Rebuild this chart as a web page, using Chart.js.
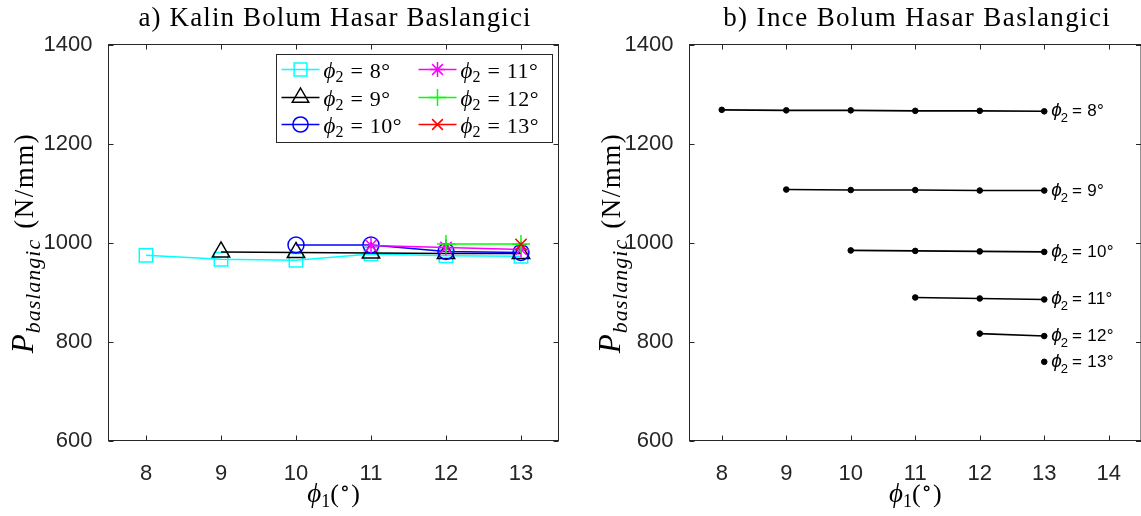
<!DOCTYPE html>
<html><head><meta charset="utf-8">
<script src="https://cdn.jsdelivr.net/npm/chart.js@4"></script>
<style>
html,body{margin:0;padding:0;background:#fff;overflow:hidden;width:1141px;height:516px;}
#wrap{position:relative;width:1141px;height:516px;overflow:hidden;}
canvas{position:absolute;top:0;}
#c1{left:0;} #c2{left:570px;}
</style></head><body>
<div id="wrap"><canvas id="c1" width="570" height="516"></canvas><canvas id="c2" width="576" height="516"></canvas></div>
<script>
// ---------------- data ----------------
const phi1 = [8, 9, 10, 11, 12, 13];
const xTicksA = [8, 9, 10, 11, 12, 13];
const xTicksB = [8, 9, 10, 11, 12, 13, 14];
const yTicks = [600, 800, 1000, 1200, 1400];
const phi2Names = ['8', '9', '10', '11', '12', '13'];
const titleA = 'a) Kalin Bolum Hasar Baslangici';
const titleB = 'b) Ince Bolum Hasar Baslangici';

// a) Kalin bolum (series phi2 = 8..13, starting at phi1 = phi2)
const kalin8  = [974, 966, 964, 977, 973, 972];
const kalin9  = [981, 980, 979, 978, 978];
const kalin10 = [995, 995, 982, 980];
const kalin11 = [994, 990, 986];
const kalin12 = [997, 997];
const kalin13 = [996];

// b) Ince bolum
const ince8  = [1268, 1267, 1267, 1266, 1266, 1265];
const ince9  = [1107, 1106, 1106, 1105, 1105];
const ince10 = [984, 983, 982, 981];
const ince11 = [889, 887, 885];
const ince12 = [816, 811];
const ince13 = [759];

const kalin = [kalin8, kalin9, kalin10, kalin11, kalin12, kalin13];
const ince = [ince8, ince9, ince10, ince11, ince12, ince13];

// ---------------- styles ----------------
const colorsA = ['#00ffff', '#000000', '#0000ff', '#ff00ff', '#00ff00', '#ff0000'];
const stylesA = ['rect', 'triangle', 'circle', 'star', 'cross', 'crossRot'];
const radiiA = [9.5, 10, 8, 8, 9, 8];
const AX = '#262626';
const SERIF = '"Liberation Serif", "DejaVu Serif", serif';
const SANS = '"Liberation Sans", Arial, Helvetica, sans-serif';
const H = 516;

function toPts(vals, i) { return vals.map((v, j) => ({ x: phi1[i + j], y: v })); }

const dsA = kalin.map((vals, i) => ({
  label: 'phi2=' + phi2Names[i],
  data: toPts(vals, i),
  borderColor: colorsA[i],
  backgroundColor: 'rgba(0,0,0,0)',
  pointStyle: stylesA[i],
  pointRadius: radiiA[i],
  pointBorderColor: colorsA[i],
  pointBackgroundColor: 'rgba(0,0,0,0)',
  pointBorderWidth: 1.5,
  borderWidth: 1.5,
  tension: 0,
  order: 10 - i
}));
const dsB = ince.map((vals, i) => ({
  label: 'phi2=' + phi2Names[i],
  data: toPts(vals, i),
  borderColor: '#000',
  backgroundColor: '#000',
  pointStyle: 'circle',
  pointRadius: 2.8,
  pointBorderColor: '#000',
  pointBackgroundColor: '#000',
  pointBorderWidth: 1,
  borderWidth: 1.6,
  tension: 0
}));

// ---------------- drawing helpers ----------------
function drawMarker(ctx, style, x, y, r) {
  ctx.beginPath();
  if (style === 'rect') {
    const s = r * Math.SQRT1_2; ctx.rect(x - s, y - s, 2 * s, 2 * s);
  } else if (style === 'triangle') {
    ctx.moveTo(x, y - r); ctx.lineTo(x + 0.866 * r, y + 0.5 * r); ctx.lineTo(x - 0.866 * r, y + 0.5 * r); ctx.closePath();
  } else if (style === 'circle') {
    ctx.arc(x, y, r, 0, Math.PI * 2);
  } else if (style === 'star') {
    const d = r * Math.SQRT1_2;
    ctx.moveTo(x - r, y); ctx.lineTo(x + r, y); ctx.moveTo(x, y - r); ctx.lineTo(x, y + r);
    ctx.moveTo(x - d, y - d); ctx.lineTo(x + d, y + d); ctx.moveTo(x - d, y + d); ctx.lineTo(x + d, y - d);
  } else if (style === 'cross') {
    ctx.moveTo(x - r, y); ctx.lineTo(x + r, y); ctx.moveTo(x, y - r); ctx.lineTo(x, y + r);
  } else if (style === 'crossRot') {
    const d = r * Math.SQRT1_2;
    ctx.moveTo(x - d, y - d); ctx.lineTo(x + d, y + d); ctx.moveTo(x - d, y + d); ctx.lineTo(x + d, y - d);
  }
  ctx.stroke();
}

function fitText(ctx, text, cx, cy, targetW) {
  ctx.letterSpacing = '0px';
  const w = ctx.measureText(text).width;
  const ls = (targetW - w) / text.length;
  ctx.letterSpacing = ls.toFixed(2) + 'px';
  ctx.textAlign = 'center';
  ctx.textBaseline = 'middle';
  ctx.fillText(text, cx + ls / 2, cy);
  ctx.letterSpacing = '0px';
}

// draws runs [{t, font, dy, gap, ls}] left to right starting at x
function runs(ctx, parts, x, y) {
  ctx.textAlign = 'left'; ctx.textBaseline = 'alphabetic';
  for (const p of parts) {
    ctx.font = p.font;
    ctx.letterSpacing = (p.ls || 0) + 'px';
    ctx.fillText(p.t, x, y + (p.dy || 0));
    x += ctx.measureText(p.t).width + (p.gap || 0);
  }
  ctx.letterSpacing = '0px';
  return x;
}
function runsWidth(ctx, parts) {
  let w = 0;
  for (const p of parts) {
    ctx.font = p.font; ctx.letterSpacing = (p.ls || 0) + 'px';
    w += ctx.measureText(p.t).width + (p.gap || 0);
  }
  ctx.letterSpacing = '0px';
  return w;
}

const yLabelParts = [
  { t: 'P', font: 'italic 31px ' + SERIF, gap: 1 },
  { t: 'baslangic', font: 'italic 22px ' + SERIF, dy: 7, gap: 10, ls: 1 },
  { t: '(N/mm)', font: '27px ' + SERIF, ls: 1.5 }
];
const xLabelParts = [
  { t: '\u03D5', font: 'italic 27px ' + SERIF },
  { t: '1', font: '18px ' + SERIF, dy: 5 },
  { t: '(', font: '26px ' + SERIF, gap: 1 },
  { t: '\u2218', font: '21px ' + SERIF, dy: -7, gap: 1 },
  { t: ')', font: '26px ' + SERIF }
];

function framePlugin(opts) {
  return {
    id: 'frame',
    afterDraw(chart) {
      const ctx = chart.ctx, a = chart.chartArea;
      const xs = chart.scales.x, ys = chart.scales.y;
      ctx.save();
      ctx.strokeStyle = AX; ctx.lineWidth = 1;
      ctx.strokeRect(a.left, a.top, a.right - a.left, a.bottom - a.top);
      ctx.beginPath();
      for (const v of opts.xTicks) {
        const px = Math.round(xs.getPixelForValue(v)) + 0.5;
        ctx.moveTo(px, a.bottom); ctx.lineTo(px, a.bottom - 5);
        ctx.moveTo(px, a.top); ctx.lineTo(px, a.top + 5);
      }
      for (const v of yTicks) {
        const py = Math.round(ys.getPixelForValue(v)) + 0.5;
        ctx.moveTo(a.left, py); ctx.lineTo(a.left + 5, py);
        ctx.moveTo(a.right, py); ctx.lineTo(a.right - 5, py);
      }
      ctx.stroke();

      // title
      ctx.fillStyle = '#000';
      ctx.font = '27px ' + SERIF;
      fitText(ctx, opts.title, opts.titleX, 19, opts.titleW);

      // y label (rotated)
      ctx.fillStyle = '#000';
      const yw = runsWidth(ctx, yLabelParts);
      ctx.save();
      ctx.translate(opts.yLabelX, 243);
      ctx.rotate(-Math.PI / 2);
      runs(ctx, yLabelParts, -yw / 2, 0);
      ctx.restore();

      // x label
      const xw = runsWidth(ctx, xLabelParts);
      const cx = (a.left + a.right) / 2;
      runs(ctx, xLabelParts, cx - xw / 2, 502);

      if (opts.legend) {
        const L = opts.legend;
        ctx.fillStyle = '#fff';
        ctx.fillRect(L.x, L.y, L.w, L.h);
        ctx.strokeStyle = AX; ctx.lineWidth = 1;
        ctx.strokeRect(L.x, L.y, L.w, L.h);
        for (let i = 0; i < 6; i++) {
          const col = Math.floor(i / 3), row = i % 3;
          const x0 = L.x + L.colX[col], y0 = L.y + L.rowY[row];
          ctx.strokeStyle = colorsA[i]; ctx.lineWidth = 1.5;
          ctx.beginPath(); ctx.moveTo(x0, y0); ctx.lineTo(x0 + 38, y0); ctx.stroke();
          drawMarker(ctx, stylesA[i], x0 + 19, y0, radiiA[i] * 0.95);
          ctx.fillStyle = '#000';
          runs(ctx, [
            { t: '\u03D5', font: 'italic 23px ' + SERIF },
            { t: '2', font: '16px ' + SERIF, dy: 4, gap: 7 },
            { t: '=', font: '22px ' + SERIF, gap: 7 },
            { t: phi2Names[i] + '\u00B0', font: '22px ' + SERIF, ls: 0.5 }
          ], x0 + 42, y0 + 8);
        }
      }

      if (opts.endLabels) {
        ctx.fillStyle = '#000';
        chart.data.datasets.forEach((ds, i) => {
          const last = ds.data[ds.data.length - 1];
          const px = xs.getPixelForValue(last.x) + 7;
          const py = ys.getPixelForValue(last.y);
          runs(ctx, [
            { t: '\u03D5', font: 'italic 19px ' + SANS, gap: -1 },
            { t: '2', font: '13px ' + SANS, dy: 6, gap: 4 },
            { t: '= ' + phi2Names[i] + '\u00B0', font: '17px ' + SANS, ls: 0.3 }
          ], px, py + 5);
        });
      }
      ctx.restore();
    }
  };
}

function makeChart(id, datasets, xmin, xmax, xTicks, canvasW, areaLeft, areaRight, opts) {
  return new Chart(document.getElementById(id), {
    type: 'line',
    data: { datasets },
    options: {
      responsive: false, animation: false, events: [],
      devicePixelRatio: 1,
      layout: { padding: { left: 0, top: 44.5, right: canvasW - areaRight, bottom: 0 } },
      plugins: { legend: { display: false }, tooltip: { enabled: false }, title: { display: false } },
      scales: {
        x: {
          type: 'linear', min: xmin, max: xmax,
          grid: { display: false }, border: { display: false },
          afterBuildTicks: s => { s.ticks = xTicks.map(v => ({ value: v })); },
          afterFit: s => { s.height = H - 440.5; },
          ticks: { color: AX, font: { family: SANS, size: 22 }, padding: 12, maxRotation: 0, autoSkip: false,
            callback: v => String(v) }
        },
        y: {
          type: 'linear', min: 600, max: 1400,
          grid: { display: false }, border: { display: false },
          afterBuildTicks: s => { s.ticks = yTicks.map(v => ({ value: v })); },
          afterFit: s => { s.width = areaLeft; },
          ticks: { color: AX, font: { family: SANS, size: 22 }, padding: 8, autoSkip: false,
            callback: v => String(v) }
        }
      }
    },
    plugins: [framePlugin(opts)]
  });
}

makeChart('c1', dsA, 7.5, 13.5, xTicksA, 570, 108.5, 560.5, {
  xTicks: xTicksA, title: titleA, titleX: 334.5, titleW: 393, yLabelX: 33,
  legend: { x: 276.5, y: 54.5, w: 276, h: 88, colX: [5, 142], rowY: [15, 43, 70] }
});
makeChart('c2', dsB, 7.5, 14.5, xTicksB, 576, 119.5, 573.5, {
  xTicks: xTicksB, title: titleB, titleX: 346.5, titleW: 388, yLabelX: 50,
  endLabels: true
});
</script>
</body></html>
